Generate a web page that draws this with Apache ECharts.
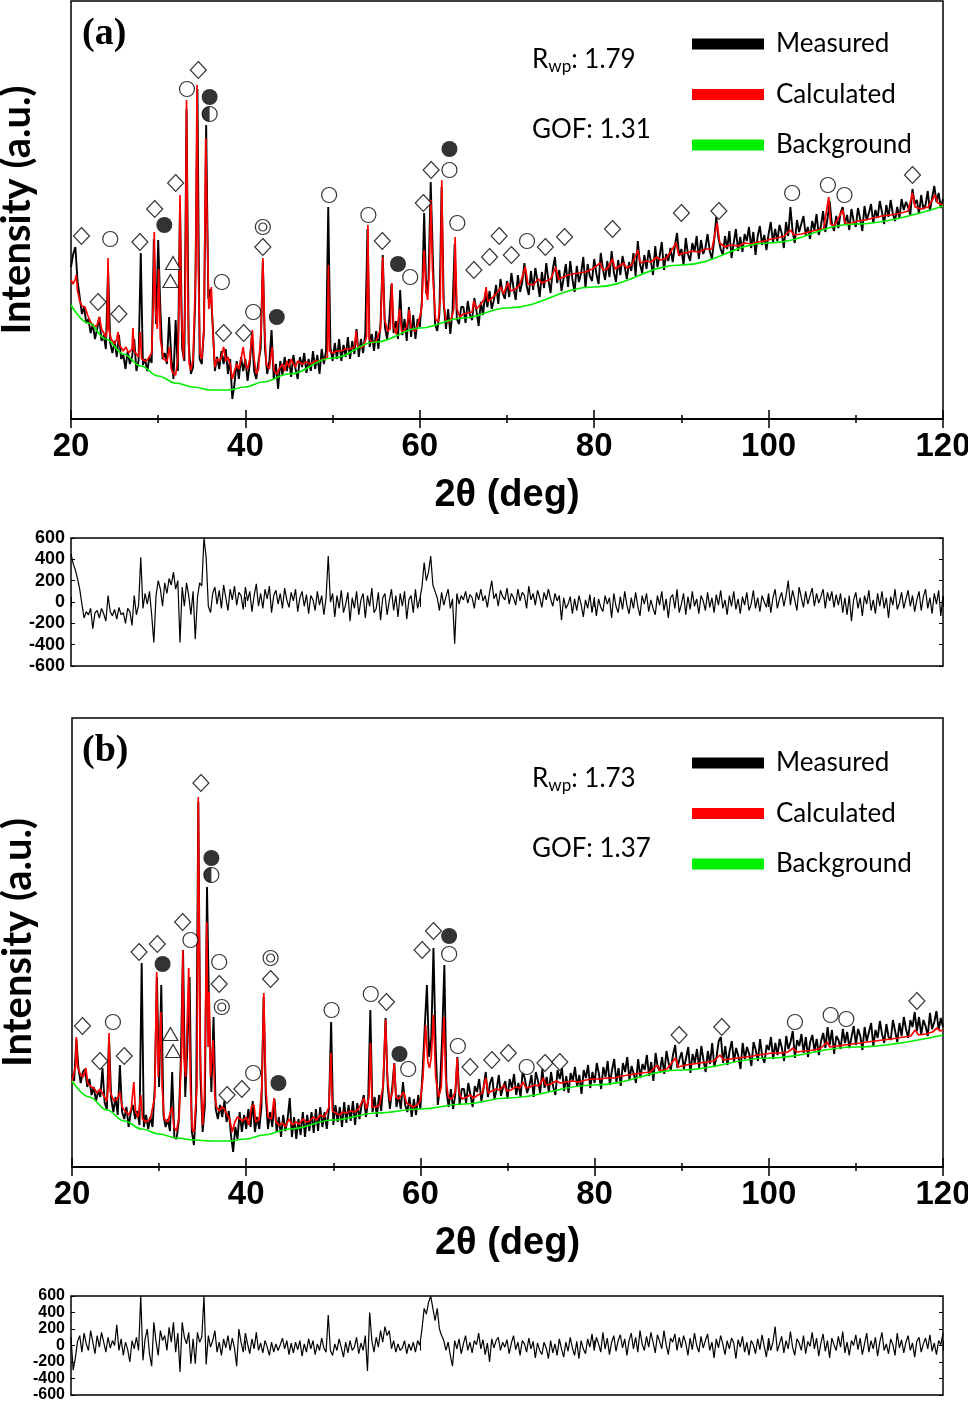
<!DOCTYPE html>
<html><head><meta charset="utf-8">
<script src="https://cdn.jsdelivr.net/npm/echarts@6/dist/echarts.min.js"></script>
<style>html,body{margin:0;padding:0;background:#fff}#c{width:968px;height:1401px}</style>
</head><body><div id="c"></div>
<script>
// ---------- DATA ----------
const X0 = 20, STEP = 0.25; // measured & residual sampled every 0.25 deg from 20 to 120
const xTicks = [20, 40, 60, 80, 100, 120];

// Panel (a) measured intensity (a.u.)
const measuredA = [
152,165,172,138, 122,105,112,96, 100,86,95,80, 90,102,78,84, 70,150,76,66,
78,62,84,60, 64,50,68,55, 62,80,48,58, 166,54,60,48, 62,56,180,95,
179,110,60,66, 55,102,62,40, 99,48,215,70, 58,310,75,45, 52,120,330,60,
55,90,294,120, 130,95,48,62, 50,68,55,70, 45,60,20,35, 58,40,62,48,
60,38,55,85, 48,40,58,70, 158,70,45,58, 89,40,55,30, 58,44,62,48,
60,42,64,50, 40,62,52,66, 46,60,48,68, 50,64,45,70, 55,68,212,72,
58,76,60,80, 58,74,62,82, 60,78,65,90, 62,80,66,86, 190,72,85,68,
88,70,96,164, 92,80,100,135, 86,98,80,129, 84,100,78,112, 82,104,80,100,
92,120,206,125, 140,237,160,95, 88,105,232,115, 90,110,85,108, 175,100,95,112,
112,96,118,104, 99,121,108,93, 117,104,126,112, 128,110,119,134, 115,140,126,120,
138,122,146,131, 119,144,127,137, 156,133,124,148, 129,151,138,122, 147,131,156,139,
126,150,162,136, 149,128,141,155, 132,158,140,127, 153,137,146,162, 131,155,143,138,
160,145,135,166, 150,139,158,142, 168,147,137,159, 144,163,152,140, 157,148,166,143,
178,155,146,164, 150,169,158,144, 173,152,163,177, 149,165,158,171, 157,173,186,163,
170,154,181,165, 158,176,167,183, 160,179,165,171, 185,168,160,178, 202,181,170,164,
183,170,188,161, 176,190,168,182, 167,185,178,192, 171,187,164,183, 193,174,184,169,
185,197,176,190, 178,194,186,171, 197,183,212,188, 176,199,187,195, 203,184,192,180,
198,189,205,184, 193,208,187,200, 218,196,188,203, 191,206,212,195, 204,189,210,198,
192,211,200,188, 213,199,206,215, 196,209,201,218, 207,195,214,202, 219,205,198,212,
201,220,209,217, 212,204,230,215, 219,205,224,210, 214,228,208,221, 233,217,226,211,
220];

// Panel (a) calculated profile [2theta, intensity]
const calculatedA = [[20,139],[20.25,135],[20.5,140],[20.6,144],[20.75,128],[21,118],[21.25,113],[21.6,112],[21.9,104],[22.25,97],[22.6,92],[23,94],[23.25,102],[23.5,90],[24,82],[24.15,90],[24.25,161],[24.35,90],[24.6,80],[25,75],[25.25,80],[25.4,87],[25.55,74],[26,68],[26.3,72],[26.6,66],[27,70],[27.1,91],[27.25,68],[27.75,62],[27.95,87],[28.1,60],[28.5,58],[28.75,59],[29.25,66],[29.45,120],[29.55,187],[29.7,110],[29.9,90],[30.05,150],[30.25,80],[30.6,60],[31,58],[31.3,72],[31.5,50],[31.75,45],[32,44],[32.25,60],[32.4,120],[32.5,224],[32.65,110],[32.9,60],[33.1,120],[33.25,319],[33.4,120],[33.55,55],[33.75,49],[34.0,60],[34.3,150],[34.45,334],[34.6,150],[34.8,65],[35.0,60],[35.25,90],[35.45,281],[35.6,200],[35.8,110],[36.0,120],[36.1,132],[36.25,90],[36.5,52],[36.75,60],[37.0,58],[37.25,62],[37.5,72],[37.75,58],[38,62],[38.25,55],[38.5,40],[38.75,48],[39,55],[39.25,50],[39.5,60],[39.75,72],[40,55],[40.25,50],[40.5,60],[40.8,89],[41,60],[41.25,45],[41.5,50],[41.8,90],[42.0,161],[42.2,90],[42.4,55],[42.75,50],[43.05,72],[43.3,48],[43.6,45],[44,52],[44.25,55],[44.5,48],[44.75,58],[45,52],[45.25,60],[45.5,55],[45.75,52],[46,58],[46.5,55],[47,57],[47.5,55],[48,58],[48.5,58],[49,60],[49.4,62],[49.52,154],[49.65,68],[50,66],[50.5,68],[51,68],[51.5,70],[52,70],[52.5,72],[52.7,88],[52.9,72],[53.5,72],[53.9,82],[54.05,194],[54.2,80],[54.6,76],[55,78],[55.5,90],[55.75,162],[55.95,100],[56.3,88],[56.6,90],[56.8,136],[57.0,92],[57.3,85],[57.7,110],[57.9,88],[58.2,88],[58.5,92],[58.8,109],[59,90],[59.5,88],[59.8,95],[60.2,110],[60.5,169],[60.7,130],[60.9,119],[61.1,150],[61.27,219],[61.45,150],[61.8,100],[62.1,97],[62.35,120],[62.52,239],[62.7,120],[63,98],[63.3,97],[63.6,100],[63.9,110],[64.05,182],[64.25,110],[64.6,102],[65,105],[65.5,106],[66,107],[66.2,118],[66.5,110],[67,115],[67.4,120],[67.6,132],[67.8,118],[68.2,120],[68.6,124],[69,128],[69.3,132],[69.6,125],[70.1,136],[70.4,128],[71,130],[71.5,135],[72.1,152],[72.4,135],[73,134],[73.6,140],[74,136],[74.5,138],[75,140],[75.6,152],[75.9,140],[76.5,142],[77,144],[77.5,145],[78.3,146],[79,147],[79.8,150],[80.7,156],[81,149],[81.5,150],[82.1,160],[82.4,150],[83.4,156],[83.7,151],[84.3,154],[85,169],[85.3,156],[86,158],[86.5,157],[87.2,162],[87.6,159],[88.3,161],[89.4,176],[89.7,164],[90.2,166],[90.6,166],[91.2,168],[92,167],[92.8,170],[93.5,170],[94.1,196],[94.4,176],[95,172],[95.6,174],[96.5,173],[97.3,176],[98,175],[98.8,177],[99.5,178],[100.3,180],[101,181],[101.8,183],[102.5,189],[102.9,184],[103.8,185],[104.6,187],[105.5,189],[106.3,190],[106.9,222],[107.1,195],[107.5,193],[108.5,209],[108.8,195],[109.5,196],[110.3,198],[111.1,199],[112,201],[113,203],[114,204],[115.2,206],[116,208],[116.5,226],[116.8,212],[117.5,210],[118.3,212],[119.1,224],[119.4,216],[120,214]];

// Panel (a) background control points
const backgroundA = [[20,114],[22,96],[24,80],[26,65],[28,53],[30,43],[32,36],[34,32],[36,29],[38,29],[40,32],[42,37],[45,45],[50,61],[55,77],[60,91],[65,101],[70,111],[80,132],[90,154],[100,176],[110,195],[120,213]];

// Panel (a) residual (counts)
const residualA = [
450,360,300,220, 120,-20,-150,-90, -120,-60,-250,-100, -80,-150,-60,-110, -180,60,-90,-130,
-70,-160,-50,-120, -100,-200,-60,-90, -220,60,-120,-30, 420,-60,80,-20, 100,-120,-380,60,
200,120,-40,180, 80,220,160,280, 120,200,-380,140, -40,180,60,-120, 100,-350,40,180,
150,600,420,-40, -100,80,140,-20, 110,-60,160,40, -80,120,20,150, -30,90,60,-70,
140,10,100,-90, 60,170,-40,80, -60,120,30,150, -100,60,110,-20, 80,-60,130,20,
-50,90,10,120, -90,40,100,-40, 70,-110,60,20, -80,100,-30,60, -120,40,430,0,
80,-140,60,-60, 110,-100,-20,90, -180,40,-60,100, -120,20,80,-150, 60,-40,130,-100,
-60,90,-170,40, 80,-120,10,120, -80,60,-140,80, -40,100,-160,20, 60,-100,120,-60,
30,140,370,200, 280,430,160,100, 40,-80,90,-30, 50,120,-60,30, -390,80,-20,60,
20,100,-10,70, 40,-60,90,20, 120,10,60,-50, 90,200,30,80, -40,110,50,20,
130,-20,80,40, -30,120,10,90, 60,-60,150,20, 80,-30,110,40, -50,90,20,120,
30,-40,80,10, 60,-170,40,-60, -20,50,-110,30, -80,60,-20,-140, 20,-60,70,-100,
40,-130,30,-50, -90,60,-20,40, -150,80,-40,-100, 50,-70,100,-30, -110,40,-60,90,
-40,-130,60,-20, 80,-90,20,-60, -120,60,-30,100, -80,30,-150,40, 70,-60,120,-100,
-20,80,-120,50, -70,100,-40,30, -110,60,10,-80, 90,-50,40,-100, 70,-30,110,-60,
20,-120,60,-40, 100,-70,30,-110, 50,-30,90,-80, -20,110,-60,40, -90,60,0,-50,
80,-100,40,120, -60,30,90,-40, 60,200,-30,110, 20,-80,140,40, -50,100,-20,60,
130,-40,80,-10, 50,120,-60,90, 10,100,-50,70, -30,80,-100,40, -120,60,-180,20,
90,-60,40,-130, 60,-20,110,-80, 20,-110,80,-40, 100,-60,40,-150, 50,-30,120,-70,
-10,90,-60,30, 110,-40,60,-90, 20,100,-80,50, 120,-60,40,-110, 80,-20,110,-130,
60];

// Panel (b) measured intensity (a.u.)
const measuredB = [
92,86,128,98, 84,95,98,80, 88,72,80,66, 76,70,99,64, 58,130,68,55,
70,52,102,55, 48,60,40,55, 62,48,56,42, 204,40,52,38, 50,40,80,190,
80,182,52,40, 48,36,95,30, 28,45,110,217, 70,120,190,36, 22,60,365,90,
35,60,280,150, 75,150,58,48, 62,50,66,45, 56,32,15,40, 28,55,35,52,
38,58,40,66, 35,50,38,60, 170,70,38,55, 40,68,35,50, 30,52,36,48,
69,30,50,28, 48,32,55,30, 52,36,55,34, 58,36,60,40, 55,38,58,145,
42,62,45,60, 40,65,44,62, 46,66,42,64, 48,62,72,50, 66,157,55,70,
50,72,56,85, 149,80,58,78, 104,60,72,58, 85,62,55,70, 50,68,52,72,
58,95,140,182, 110,130,219,120, 62,80,130,202, 75,60,78,58, 72,110,62,78,
78,64,84,72, 60,81,75,88, 66,79,95,70, 84,90,68,77, 92,71,80,86,
68,88,79,93, 72,84,70,96, 88,74,81,92, 70,95,86,74, 98,79,90,75,
95,80,72,97, 88,99,76,91, 74,94,86,100, 80,92,73,97, 89,102,79,95,
84,104,93,78, 100,90,106,82, 97,108,85,99, 81,104,95,110, 87,101,93,84,
108,89,103,97, 112,91,105,86, 114,100,96,110, 93,116,104,97, 112,122,99,108,
115,98,109,120, 94,113,104,118, 99,121,107,95, 116,103,124,100, 110,126,130,104,
121,102,116,126, 105,119,111,98, 124,108,120,113, 101,125,117,106, 128,110,104,122,
117,130,108,124, 112,128,119,106, 131,118,125,136, 109,127,121,133, 114,130,110,125,
132,116,128,112, 126,134,119,140, 122,137,113,131, 127,118,138,124, 135,119,130,141,
122,138,131,117, 140,126,135,144, 121,137,129,146, 133,124,143,130, 127,147,136,125,
144,131,150,138, 129,147,140,155, 136,150,132,147, 141,131,154,138, 145,156,137,149,
140];

// Panel (b) calculated profile [2theta, intensity]
const calculatedB = [[20,85],[20.25,95],[20.4,100],[20.5,130],[20.65,100],[21,92],[21.3,90],[21.6,99],[21.8,84],[22.2,80],[22.5,79],[22.9,74],[23.2,78],[23.4,75],[23.6,72],[24,66],[24.15,80],[24.25,134],[24.4,75],[24.8,66],[25.2,68],[25.5,75],[25.75,60],[26.1,56],[26.5,52],[26.8,58],[27.1,85],[27.3,55],[27.6,50],[27.9,72],[28.1,48],[28.5,45],[29,48],[29.5,70],[29.72,195],[29.9,90],[30.05,120],[30.2,155],[30.35,80],[30.6,48],[31,45],[31.3,55],[31.5,60],[31.7,40],[32,36],[32.3,50],[32.6,120],[32.72,217],[32.85,110],[33.05,90],[33.4,199],[33.6,80],[33.8,38],[34.0,35],[34.35,80],[34.5,370],[34.7,120],[35.0,42],[35.2,70],[35.47,245],[35.62,120],[35.75,175],[35.9,90],[36.2,127],[36.4,70],[36.6,60],[36.9,56],[37.2,60],[37.5,58],[37.8,52],[38.1,48],[38.4,35],[38.7,45],[39,50],[39.3,48],[39.6,46],[40,50],[40.3,42],[40.6,60],[40.9,62],[41.1,45],[41.5,48],[41.8,80],[42.02,174],[42.25,80],[42.5,50],[42.9,48],[43.2,69],[43.4,45],[43.8,42],[44.2,44],[44.5,40],[44.9,48],[45.3,42],[45.7,45],[46.1,43],[46.5,48],[46.9,45],[47.3,46],[47.7,50],[48.1,47],[48.5,52],[49,50],[49.5,60],[49.72,114],[49.9,56],[50.3,54],[50.7,52],[51.1,55],[51.5,54],[52,56],[52.4,55],[52.9,58],[53.5,69],[53.8,58],[54.1,70],[54.27,124],[54.45,60],[54.9,60],[55.3,62],[55.7,80],[56.0,147],[56.2,90],[56.5,66],[56.8,75],[57.0,104],[57.2,70],[57.5,68],[58.1,75],[58.4,64],[58.8,62],[59.2,60],[59.6,62],[60.0,66],[60.3,90],[60.6,142],[60.85,105],[61.05,99],[61.25,110],[61.5,152],[61.75,90],[62.1,70],[62.4,80],[62.7,150],[62.9,90],[63.2,70],[63.6,68],[64.0,75],[64.22,109],[64.4,75],[64.8,68],[65.3,70],[65.7,72],[66.1,69],[66.6,72],[67.1,74],[67.5,89],[67.8,74],[68.2,76],[68.7,78],[69.1,77],[69.6,82],[69.9,76],[70.4,77],[70.9,80],[71.4,79],[71.8,85],[72.1,79],[72.6,80],[73.1,82],[73.6,81],[74.1,89],[74.4,82],[75,83],[75.6,86],[76.1,84],[76.7,85],[77.4,86],[78.2,85],[79,87],[79.8,88],[80.6,88],[81.4,89],[82.3,89],[83.1,91],[83.9,92],[84.6,93],[85.4,94],[86.4,95],[87.2,102],[87.5,96],[88.3,98],[89.3,109],[89.6,100],[90.5,102],[91.3,103],[92.1,104],[92.9,105],[93.7,106],[94.4,112],[94.8,107],[95.6,108],[96.5,109],[97.4,110],[98.2,111],[98.7,112],[99.6,113],[100.5,114],[101.4,114],[102.2,115],[102.8,119],[103.2,115],[104.2,116],[105.2,117],[106,119],[106.7,125],[107,120],[107.8,121],[108.7,122],[109.6,123],[110.5,124],[111.3,125],[112.2,126],[113.1,127],[114,128],[114.8,129],[115.5,130],[116.3,131],[116.8,137],[117.2,132],[118,133],[118.8,135],[119.3,139],[119.7,136],[120,137]];

// Panel (b) background control points
const backgroundB = [[20,86],[22,70],[24,57],[26,46],[28,38],[30,33],[32,29],[34,27],[36,26],[38,26],[40,28],[42,32],[45,38],[50,47],[55,54],[60,58],[65,63],[70,69],[80,82],[90,97],[100,109],[110,120],[120,132]];

// Panel (b) residual (counts)
const residualB = [
100,-300,-150,50, 120,-80,150,20, -60,180,40,-100, 120,-20,160,40, -80,100,-30,60,
0,250,-60,80, -120,40,-50,-200, 60,-40,100,-60, 600,-180,80,200, -100,-250,280,50,
-120,180,60,120, -60,220,40,280, -80,150,-320,280, 100,20,160,-220, 80,-220,160,40,
100,600,-230,120, -20,60,180,-80, 40,-120,80,-30, 120,-60,90,-30, -250,200,40,-80,
150,20,-100,80, -40,160,-60,30, -90,60,-20,-120, 40,-80,20,-60, 10,90,-40,60,
-110,30,-90,40, -50,60,-130,20, -80,80,-40,60, -110,20,-60,90, -30,-80,370,-60,
-120,20,-60,80, -30,-140,40,-90, 60,-60,-20,100, -100,30,-60,120, -310,400,60,-80,
100,-20,180,40, 230,120,180,-40, 60,-80,20,-60, -30,60,-100,20, -60,40,-80,60,
0,200,450,380, 520,600,450,300, 450,200,120,60, -60,40,-120,-250, 60,-40,80,-100,
20,120,-60,40, -90,60,10,150, -40,70,-110,30, -200,80,-30,60, 100,-60,40,-20,
70,-100,30,120, -50,40,-120,60, 20,-80,90,-40, 50,-150,30,-60, -110,40,-30,-160,
60,-90,20,-120, 80,-40,-140,40, -70,100,-30,-120, 50,-160,60,-40, -100,80,-20,140,
-60,100,20,-80, 160,-40,90,-110, 40,120,-70,60, 130,-30,80,-120, 60,150,-40,100,
-80,180,20,-60, 110,-20,160,40, -90,130,50,-40, 180,10,-110,90, 40,140,-60,100,
-30,120,30,-120, 90,-50,150,0, -80,110,-30,60, 140,-60,40,-150, 80,-30,120,20,
-110,60,-40,90, 30,-160,70,-20, 110,-80,40,-120, 60,10,-100,80, -50,130,-10,-140,
90,-60,40,230, -70,20,110,-90, 60,-40,170,-20, -120,80,30,-60, 120,-100,50,-10,
160,-40,90,-130, 30,140,-70,60, -150,90,10,-60, 110,-20,170,-90, 40,-120,60,0,
130,-50,90,-110, 20,150,-80,60, -40,100,-130,40, 160,-60,20,-100, 80,10,-120,150,
-30,70,-90,40, 120,-60,30,-140, 50,100,-80,20, 90,-40,130,-70, 30,-110,60,10,
150];

// Phase markers [2theta, intensity]
const diamondsA = [[21.2,183],[23.1,117],[25.5,105],[27.9,177],[29.6,210],[32.0,236],[34.6,349],[37.5,86],[39.8,86],[42.0,172],[55.7,178],[60.4,216],[61.3,249],[66.2,149],[68.0,162],[69.1,183],[70.5,164],[74.4,172],[76.6,182],[82.1,190],[90.0,206],[94.3,208],[116.5,244]];
const circlesA = [[24.5,180],[33.3,330],[37.3,137],[40.9,107],[49.6,224],[54.1,204],[58.9,142],[63.4,249],[64.3,196],[72.3,178],[102.7,226],[106.8,234],[108.7,224]];
const filledA = [[30.7,194],[35.9,322],[43.6,102],[57.5,155],[63.4,270]];
const halfA = [[35.9,305]];
const doubleA = [[42.0,192]];
const trianglesA = [[31.7,156],[31.4,138]];

const diamondsB = [[21.2,141],[23.2,106],[26.0,111],[27.7,215],[29.8,223],[32.7,245],[34.8,384],[36.9,183],[37.8,72],[39.5,78],[42.8,188],[56.1,165],[60.2,217],[61.5,236],[65.7,100],[68.2,107],[70.1,114],[74.3,104],[76.0,105],[89.7,132],[94.6,140],[117.0,166]];
const circlesB = [[24.7,145],[33.6,227],[36.9,205],[40.8,94],[49.8,157],[54.3,173],[58.6,98],[63.3,213],[64.3,121],[72.2,100],[103.0,145],[107.1,152],[108.9,148]];
const filledB = [[30.4,203],[36.0,309],[43.7,84],[57.6,113],[63.3,231]];
const halfB = [[36.0,292]];
const doubleB = [[37.2,160],[42.8,209]];
const trianglesB = [[31.3,133],[31.6,116]];

const labelsA = {rwp: '1.79', gof: '1.31'};
const labelsB = {rwp: '1.73', gof: '1.37'};
const legendNames = ['Measured', 'Calculated', 'Background'];

// ---------- CHART ----------
const NARROW = '"Liberation Sans Narrow","Arial Narrow","Liberation Sans",sans-serif';
const CAL = 'Lato,"Noto Sans",sans-serif';
const toPairs = arr => arr.map((v, i) => [X0 + i * STEP, v]);

const grids = [
  {left:71, top:1, width:872, height:418},
  {left:71, top:538, width:872, height:128},
  {left:72, top:718, width:871, height:449},
  {left:71, top:1296, width:872, height:99}
].map(g => Object.assign(g, {show:true, borderColor:'#000', borderWidth:1.5, backgroundColor:'rgba(0,0,0,0)', containLabel:false, outerBoundsMode:'none'}));

function xMain(gi) {
  return [{
    type:'value', gridIndex:gi, min:20, max:120, interval:20, position:'bottom',
    axisLine:{show:true, onZero:false, lineStyle:{color:'#000', width:2}},
    axisTick:{show:true, inside:true, length:9, lineStyle:{color:'#000', width:1.5}},
    minorTick:{show:true, splitNumber:2, length:4, lineStyle:{color:'#000', width:1.5}},
    splitLine:{show:false}, minorSplitLine:{show:false},
    axisLabel:{show:true, fontSize:33, fontWeight:'bold', fontFamily:NARROW, color:'#000', margin:11, showMinLabel:true, showMaxLabel:true},
    name:'2θ (deg)', nameLocation:'middle', nameGap:58,
    nameTextStyle:{fontSize:38, fontWeight:'bold', fontFamily:NARROW, color:'#000'}
  }, {
    type:'value', gridIndex:gi, min:20, max:120, interval:20, position:'top',
    axisLine:{show:false},
    axisTick:{show:true, inside:true, length:9, lineStyle:{color:'#000', width:1.5}},
    minorTick:{show:true, splitNumber:2, length:4, lineStyle:{color:'#000', width:1.5}},
    splitLine:{show:false}, minorSplitLine:{show:false}, axisLabel:{show:false}
  }];
}
function xRes(gi) {
  return ['bottom','top'].map(p => ({
    type:'value', gridIndex:gi, min:20, max:120, interval:20, position:p,
    axisLine:{show:false},
    axisTick:{show:true, inside:true, length:5, lineStyle:{color:'#000', width:1}},
    splitLine:{show:false}, axisLabel:{show:false}
  }));
}
function yMain(gi, max) {
  return {
    type:'value', gridIndex:gi, min:0, max:max, position:'left',
    axisLine:{show:false}, axisTick:{show:false}, axisLabel:{show:false}, splitLine:{show:false},
    name:'Intensity (a.u.)', nameLocation:'middle', nameRotate:90, nameGap:34,
    nameTextStyle:{fontSize:40, fontWeight:'bold', fontFamily:CAL, color:'#000'}
  };
}
function yRes(gi, fs) {
  return ['left','right'].map(p => ({
    type:'value', gridIndex:gi, min:-600, max:600, interval:200, position:p,
    axisLine:{show:false},
    axisTick:{show:true, inside:true, length:4, lineStyle:{color:'#000', width:1}},
    splitLine:{show:false},
    axisLabel:{show:p === 'left', fontSize:fs, lineHeight:fs, fontWeight:'bold', fontFamily:NARROW, color:'#000', margin:6,
               showMinLabel:true, showMaxLabel:true, hideOverlap:false}
  }));
}

const xAxes = [...xMain(0), ...xRes(1), ...xMain(2), ...xRes(3)];
const yAxes = [yMain(0, 418), ...yRes(1, 18), yMain(2, 449), ...yRes(3, 16)];

function profileSeries(xi, yi, meas, calc, bg) {
  const base = {type:'line', xAxisIndex:xi, yAxisIndex:yi, symbol:'none', showSymbol:false, silent:true, animation:false, emphasis:{disabled:true}};
  return [
    Object.assign({}, base, {name:'Measured', data:toPairs(meas), z:2, lineStyle:{color:'#000', width:1.9}, itemStyle:{color:'#000'}}),
    Object.assign({}, base, {name:'Calculated', data:calc, z:3, lineStyle:{color:'#ff0000', width:1.7}, itemStyle:{color:'#ff0000'}}),
    Object.assign({}, base, {name:'Background', data:bg, z:4, smooth:0.4, smoothMonotone:'x', lineStyle:{color:'#00ee00', width:1.7}, itemStyle:{color:'#00ee00'}})
  ];
}
function resSeries(xi, yi, res) {
  return {type:'line', xAxisIndex:xi, yAxisIndex:yi, symbol:'none', silent:true, animation:false, data:toPairs(res), z:2, lineStyle:{color:'#000', width:1.2}};
}
function markerSeries(xi, yi, m) {
  const b = {type:'scatter', xAxisIndex:xi, yAxisIndex:yi, silent:true, animation:false, z:6};
  const hollow = {color:'#fff', borderColor:'#000', borderWidth:1.2};
  return [
    Object.assign({}, b, {data:m.d, symbol:'diamond', symbolSize:[16,17], itemStyle:hollow}),
    Object.assign({}, b, {data:m.c.concat(m.h, m.dc), symbol:'circle', symbolSize:15, itemStyle:hollow}),
    Object.assign({}, b, {data:m.dc, symbol:'circle', symbolSize:8, itemStyle:hollow, z:7}),
    Object.assign({}, b, {data:m.f, symbol:'circle', symbolSize:16, itemStyle:{color:'#000'}}),
    Object.assign({}, b, {data:m.h, symbol:'path://M10 0A10 10 0 0 0 10 20Z', symbolSize:[7.5,15], symbolOffset:[-3.75,0], itemStyle:{color:'#000'}, z:7}),
    Object.assign({}, b, {data:m.t, symbol:'triangle', symbolSize:[15,13], itemStyle:hollow})
  ];
}

const series = [
  ...profileSeries(0, 0, measuredA, calculatedA, backgroundA),
  resSeries(2, 1, residualA),
  ...profileSeries(4, 3, measuredB, calculatedB, backgroundB),
  resSeries(6, 4, residualB),
  ...markerSeries(0, 0, {d:diamondsA, c:circlesA, f:filledA, h:halfA, dc:doubleA, t:trianglesA}),
  ...markerSeries(4, 3, {d:diamondsB, c:circlesB, f:filledB, h:halfB, dc:doubleB, t:trianglesB})
];

function legendAt(top) {
  return {
    top:top, left:687, orient:'vertical', icon:'rect', itemWidth:72, itemHeight:11, itemGap:24.5,
    selectedMode:false, data:legendNames,
    textStyle:{fontFamily:CAL, fontSize:26, lineHeight:26, color:'#000', padding:[0,0,0,7]}
  };
}
function statText(top, vals) {
  const rich = {
    a:{fontFamily:CAL, fontSize:26, fill:'#000', color:'#000'},
    b:{fontFamily:CAL, fontSize:17, fill:'#000', color:'#000', padding:[14,0,0,0]}
  };
  return [
    {type:'text', left:532, top:top, z:10, style:{text:'{a|R}{b|wp}{a|: ' + vals.rwp + '}', rich:rich}},
    {type:'text', left:532, top:top + 70, z:10, style:{text:'GOF: ' + vals.gof, font:'26px ' + CAL, fill:'#000'}}
  ];
}

const option = {
  animation:false,
  backgroundColor:'#fff',
  grid:grids,
  xAxis:xAxes,
  yAxis:yAxes,
  legend:[legendAt(26), legendAt(745)],
  series:series,
  graphic:[
    {type:'text', left:82, top:15, z:10, style:{text:'(a)', font:'bold 38px "Liberation Serif","Times New Roman",serif', fill:'#000'}},
    {type:'text', left:82, top:732, z:10, style:{text:'(b)', font:'bold 38px "Liberation Serif","Times New Roman",serif', fill:'#000'}},
    ...statText(47, labelsA),
    ...statText(766, labelsB)
  ]
};

const chart = echarts.init(document.getElementById('c'), null, {renderer:'canvas'});
chart.setOption(option);
</script>
</body></html>
